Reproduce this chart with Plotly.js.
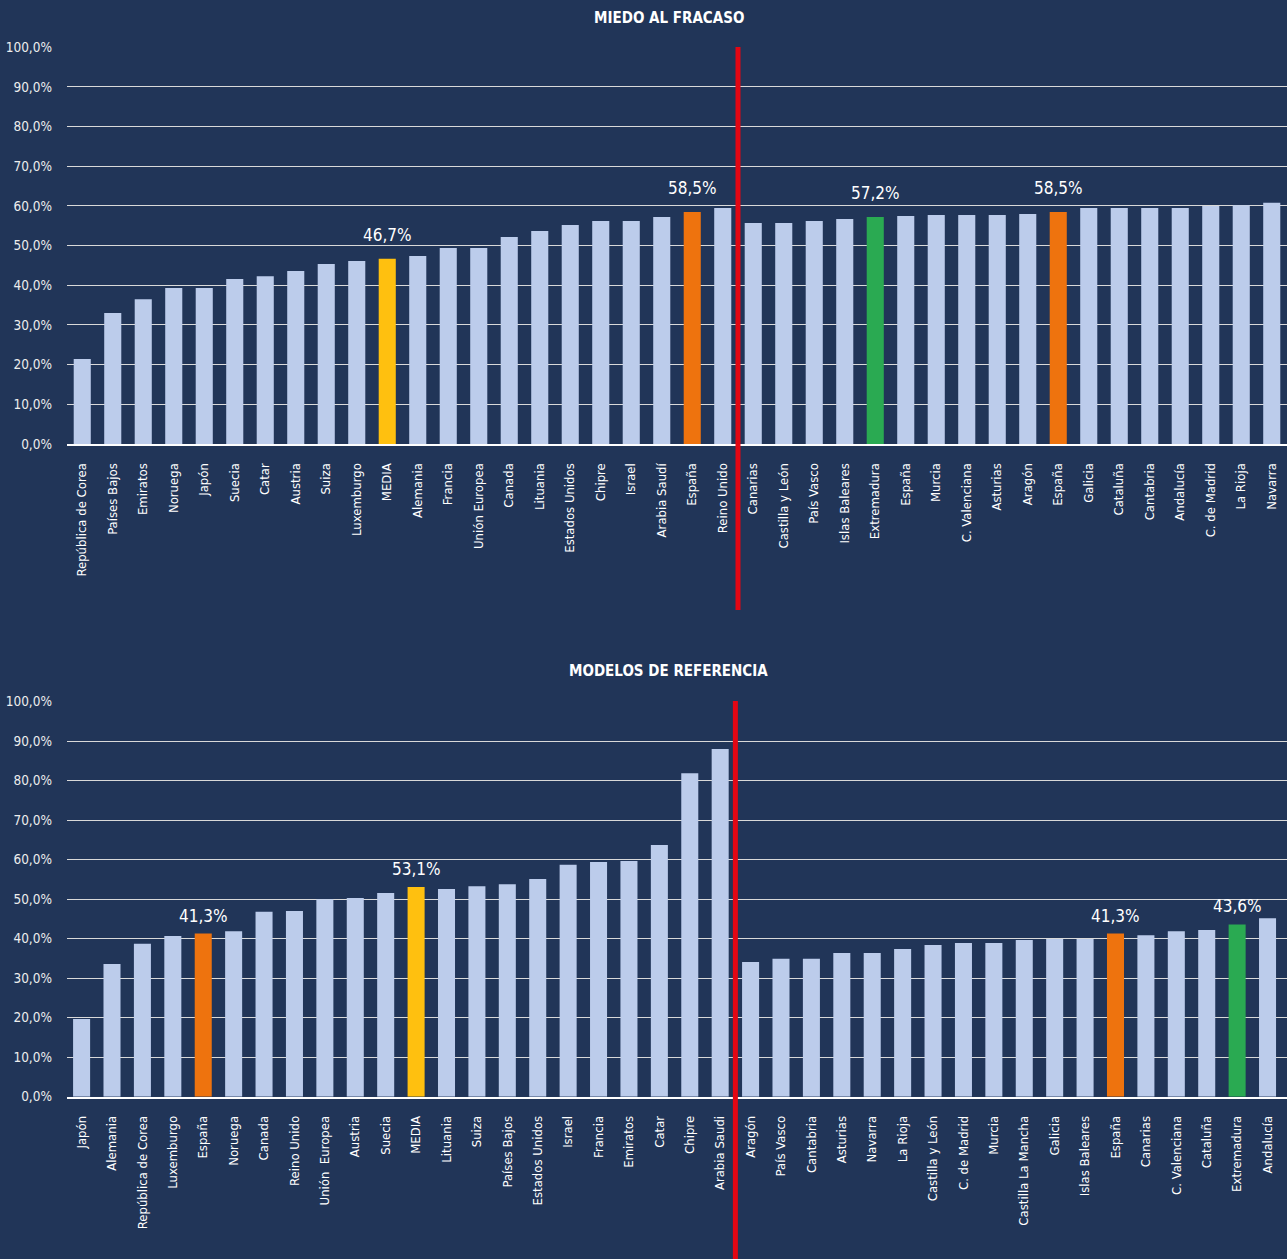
<!DOCTYPE html>
<html>
<head>
<meta charset="utf-8">
<script src="https://cdn.plot.ly/plotly-3.0.1.min.js"></script>
<style>html,body{margin:0;padding:0;background:#213558;}#chart{width:1287px;height:1259px;}</style>
</head>
<body>
<div id="chart"></div>
<script>
// ---- DATA: MIEDO AL FRACASO ----
const topCategories = ["República de Corea","Países Bajos","Emiratos","Noruega","Japón","Suecia","Catar","Austria","Suiza","Luxemburgo","MEDIA","Alemania","Francia","Unión Europea","Canada","Lituania","Estados Unidos","Chipre","Israel","Arabia Saudí","España","Reino Unido","Canarias","Castilla y León","País Vasco","Islas Baleares","Extremadura","España","Murcia","C. Valenciana","Asturias","Aragón","España","Galicia","Cataluña","Cantabria","Andalucía","C. de Madrid","La Rioja","Navarra"];
const topValues = [21.4,33.0,36.5,39.3,39.3,41.6,42.3,43.6,45.4,46.1,46.7,47.4,49.4,49.4,52.2,53.7,55.2,56.2,56.2,57.2,58.5,59.5,55.7,55.7,56.2,56.7,57.2,57.5,57.7,57.7,57.7,58.0,58.5,59.5,59.5,59.5,59.5,60.0,60.2,60.8];
const topHighlight = ["","","","","","","","","","","media","","","","","","","","","","espana","","","","","","extremadura","","","","","","espana","","","","","","",""];

// ---- DATA: MODELOS DE REFERENCIA ----
const botCategories = ["Japón","Alemania","República de Corea","Luxemburgo","España","Noruega","Canada","Reino Unido","Unión  Europea","Austria","Suecia","MEDIA","Lituania","Suiza","Países Bajos","Estados Unidos","Israel","Francia","Emiratos","Catar","Chipre","Arabia Saudi","Aragón","País Vasco","Cantabria","Asturias","Navarra","La Rioja","Castilla y León","C. de Madrid","Murcia","Castilla La Mancha","Galicia","Islas Baleares","España","Canarias","C. Valenciana","Cataluña","Extremadura","Andalucía"];
const botValues = [19.7,33.6,38.7,40.7,41.3,41.9,46.8,47.0,50.0,50.3,51.6,53.1,52.6,53.3,53.8,55.1,58.7,59.4,59.7,63.7,81.9,88.0,34.1,34.9,34.9,36.4,36.4,37.4,38.4,38.9,38.9,39.7,39.9,39.9,41.3,40.9,41.9,42.2,43.6,45.2];
const botHighlight = ["","","","","espana","","","","","","","media","","","","","","","","","","","","","","","","","","","","","","","espana","","","","extremadura",""];

const yTickVals = [0,10,20,30,40,50,60,70,80,90,100];

// ---- STYLE ----
const BG = "#213558";
const BAR = "#BCCCEB";
const COLORS = {"": BAR, media: "#FFC00F", espana: "#EE730E", extremadura: "#2AAA52"};
const FONT = "DejaVu Sans Condensed, Liberation Sans Narrow, sans-serif";
const H = 1259, W = 1287;
const py = px => 1 - px / H;

function fmt(v){ return v.toFixed(1).replace('.', ',') + '%'; }

const topX = topCategories.map((c,i)=>i);
const botX = botCategories.map((c,i)=>i);

const traces = [
  {type:'bar', x: topX, y: topValues, xaxis:'x', yaxis:'y',
   marker:{color: topHighlight.map(h=>COLORS[h])}, hoverinfo:'none'},
  {type:'bar', x: botX, y: botValues, xaxis:'x2', yaxis:'y2',
   marker:{color: botHighlight.map(h=>COLORS[h])}, hoverinfo:'none'}
];

const annotations = [];
topHighlight.forEach((h,i)=>{ if(h) annotations.push({xref:'x', yref:'y', x:i, y:topValues[i], text:fmt(topValues[i]), showarrow:false, yanchor:'middle', yshift:24, font:{family:FONT, size:17, color:'#FFFFFF'}}); });
botHighlight.forEach((h,i)=>{ if(h) annotations.push({xref:'x2', yref:'y2', x:i, y:botValues[i], text:fmt(botValues[i]), showarrow:false, yanchor:'middle', yshift:18, font:{family:FONT, size:17, color:'#FFFFFF'}}); });
annotations.push({xref:'paper', yref:'paper', x:669/W, y:py(18), text:'<b>MIEDO AL FRACASO</b>', showarrow:false, xanchor:'center', yanchor:'middle', font:{family:FONT, size:15, color:'#FFFFFF'}});
annotations.push({xref:'paper', yref:'paper', x:668/W, y:py(671), text:'<b>MODELOS DE REFERENCIA</b>', showarrow:false, xanchor:'center', yanchor:'middle', font:{family:FONT, size:15, color:'#FFFFFF'}});

const xCommon = {showgrid:false, zeroline:false, showline:true, linecolor:'#FFFFFF', linewidth:2,
  tickmode:'array', tickangle:-90, ticks:'', ticklabelstandoff:12,
  tickfont:{family:FONT, size:13, color:'#FFFFFF'}, fixedrange:true};
const yCommon = {range:[0,100], tickmode:'array', tickvals:yTickVals, ticktext:yTickVals.map(v=>fmt(v)),
  showgrid:true, gridcolor:'#D9D9D9', gridwidth:1, zeroline:false, showline:false, ticks:'',
  ticklabelstandoff:14, tickfont:{family:FONT, size:13.5, color:'#EDEDED'}, fixedrange:true};

const layout = {
  width:W, height:H, margin:{l:0,r:0,t:0,b:0},
  paper_bgcolor:BG, plot_bgcolor:BG, showlegend:false, bargap:0.44,
  xaxis: Object.assign({}, xCommon, {domain:[67/W,1], range:[-0.5,39.5], tickvals:topX, ticktext:topCategories, anchor:'y'}),
  yaxis: Object.assign({}, yCommon, {domain:[py(444), py(47.3)], anchor:'x'}),
  xaxis2: Object.assign({}, xCommon, {domain:[67/W,1], range:[-0.48,39.64], tickvals:botX, ticktext:botCategories, anchor:'y2'}),
  yaxis2: Object.assign({}, yCommon, {domain:[py(1096.7), py(701.7)], anchor:'x2'}),
  annotations: annotations,
  shapes: [
    {type:'line', xref:'x', yref:'paper', x0:21.5, x1:21.5, y0:py(47), y1:py(610), line:{color:'#E30613', width:5}},
    {type:'line', xref:'x2', yref:'paper', x0:21.5, x1:21.5, y0:py(701), y1:py(1259), line:{color:'#E30613', width:5}}
  ]
};

Plotly.newPlot('chart', traces, layout, {staticPlot:true, displayModeBar:false});
</script>
</body>
</html>
